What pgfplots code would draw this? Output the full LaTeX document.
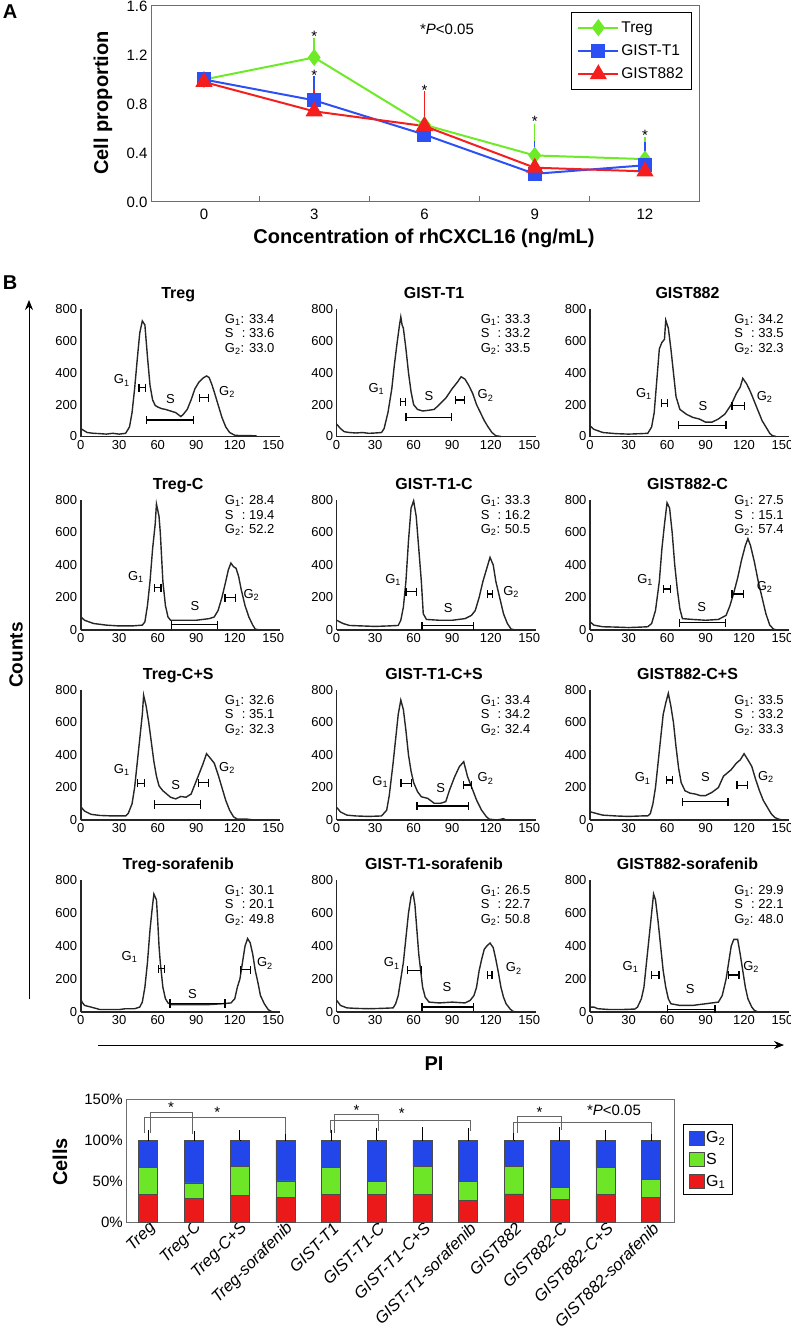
\documentclass[border=0pt]{standalone}
\usepackage{fontspec}
\setmainfont{Liberation Sans}
\usepackage{pgfplots}
\pgfplotsset{compat=1.18}
\usetikzlibrary{arrows.meta}

\definecolor{tgreen}{RGB}{110,235,40}
\definecolor{tblue}{RGB}{45,80,245}
\definecolor{tred}{RGB}{245,30,30}
\definecolor{bblue}{RGB}{35,70,235}
\definecolor{bgreen}{RGB}{110,230,40}
\definecolor{bred}{RGB}{235,25,25}
\definecolor{framegray}{RGB}{110,110,110}

\newcommand\fs[1]{\fontsize{#1}{#1}\selectfont}
% phase labels and interval markers inside a histogram
\newcommand\gl[3]{\node[font=\fs{13}] at (axis cs:#1,#2) {#3};}
\newcommand\mk[3]{\addplot[black, line width=1.3pt, {|-|}] coordinates {(#1,#3) (#2,#3)};}
\newcommand\stats[4]{\node[anchor=north east, inner sep=0pt, font=\fontsize{13}{14.5}\selectfont]
  at (axis cs:151,#1) {\begin{tabular}{@{}l@{: }l@{}}G\textsubscript{1}&#2\\S\,&#3\\G\textsubscript{2}&#4\end{tabular}};}

\pgfplotsset{
  /pgf/number format/assume math mode=true,
  hist/.style={anchor=south west, scale only axis, width=199pt,
    xmin=0, xmax=155, ymin=0, ymax=800,
    axis lines*=left, axis line style={-, line width=1.6pt, black!85},
    xtick={0,30,...,150}, ytick={0,200,...,800}, major tick length=0pt,
    tick label style={font=\fs{13}}, clip=false,
    title style={font=\bfseries\fs{16}, at={(axis description cs:0.49,1)},
      anchor=base, yshift=5pt, inner sep=0pt}},
  hline/.style={black!85, line width=1.4pt}
}

\begin{document}
\begin{tikzpicture}
\path[use as bounding box] (0pt,0pt) rectangle (791pt,-1329pt);

% ---------------- panel A ----------------
\node[font=\bfseries\fs{20}] at (10pt,-12pt) {A};
\begin{axis}[at={(151pt,-202pt)}, anchor=south west, scale only axis,
  width=548pt, height=196pt, xmin=-1.44, xmax=13.47, ymin=0, ymax=1.6,
  axis line style={framegray, line width=1pt},
  xtick={1.5,4.5,7.5,10.5}, xticklabels={}, xtick pos=bottom,
  major tick length=6pt, tick style={framegray, line width=1pt},
  extra x ticks={0,3,6,9,12}, extra x tick style={tick style={draw=none}},
  ytick={0,0.4,0.8,1.2,1.6}, ytick pos=left, ytick style={draw=none},
  yticklabel style={/pgf/number format/.cd, fixed, fixed zerofill, precision=1},
  tick label style={font=\fs{15}}, xticklabel style={yshift=-3pt},
  clip=false,
  legend style={at={(0.987,0.969)}, anchor=north east, draw=black, line width=1pt,
    font=\fs{15.5}, row sep=7pt, inner xsep=6pt, inner ysep=7pt},
  legend cell align=left,
  legend image code/.code={\draw[mark repeat=2,mark phase=2] plot coordinates {(0pt,0pt)(20pt,0pt)(40pt,0pt)};},
  ]
\addplot[tgreen, line width=2pt, mark=diamond*, mark size=7pt, mark options={solid},
  error bars/.cd, y dir=plus, y explicit, error bar style={line width=1.5pt},
  error mark options={line width=1.5pt, mark size=4.5pt}]
  coordinates {(0,1.00) +- (0,0) (3,1.18) +- (0,0.12) (6,0.63) +- (0,0.18) (9,0.38) +- (0,0.22) (12,0.35) +- (0,0.14)};
\addlegendentry{Treg}
\addplot[tblue, line width=2pt, mark=square*, mark size=6pt, mark options={solid},
  error bars/.cd, y dir=plus, y explicit, error bar style={line width=1.5pt},
  error mark options={line width=1.5pt, mark size=4.5pt}]
  coordinates {(0,1.00) +- (0,0) (3,0.83) +- (0,0.16) (6,0.55) +- (0,0.22) (9,0.23) +- (0,0.23) (12,0.30) +- (0,0.15)};
\addlegendentry{GIST-T1}
\addplot[tred, line width=2pt, mark=triangle*, mark size=8pt, mark options={solid},
  error bars/.cd, y dir=plus, y explicit, error bar style={line width=1.5pt},
  error mark options={line width=1.5pt, mark size=4.5pt}]
  coordinates {(0,0.98) +- (0,0) (3,0.74) +- (0,0.14) (6,0.62) +- (0,0.25) (9,0.28) +- (0,0.11) (12,0.25) +- (0,0.13)};
\addlegendentry{GIST882}
\node[font=\fs{15}, yshift=-3pt] at (axis cs:3,1.38) {*};
\node[font=\fs{15}, yshift=-3pt] at (axis cs:3,1.06) {*};
\node[font=\fs{15}, yshift=-3pt] at (axis cs:3,0.79) {*};
\node[font=\fs{15}, yshift=-3pt] at (axis cs:6,0.94) {*};
\node[font=\fs{15}, yshift=-3pt] at (axis cs:9,0.68) {*};
\node[font=\fs{15}, yshift=-3pt] at (axis cs:12,0.57) {*};
\end{axis}
\node[font=\fs{15}] at (447pt,-29pt) {*\textit{P}<0.05};
\node[rotate=90, font=\bfseries\fs{20}] at (103pt,-103pt) {Cell proportion};
\node[font=\bfseries\fs{20}] at (424pt,-238pt) {Concentration of rhCXCL16 (ng/mL)};

% ---------------- panel B histograms ----------------
\node[font=\bfseries\fs{20}] at (10pt,-283pt) {B};
\draw[line width=1pt, -{Stealth[length=10pt,width=8pt]}] (29pt,-999pt) -- (29pt,-300pt);
\node[rotate=90, font=\bfseries\fs{19}] at (16pt,-655pt) {Counts};
\draw[line width=1pt, -{Stealth[length=10pt,width=8pt]}] (98pt,-1045pt) -- (784pt,-1045pt);
\node[font=\bfseries\fs{20}] at (434pt,-1064pt) {PI};

% row 1
\begin{axis}[hist, at={(80.7pt,-436.5pt)}, height=127.5pt, title={Treg}]
\addplot[hline] coordinates {(0,50)(2,40)(5,25)(10,20)(15,18)(20,15)(25,20)(30,15)(35,20)(38,60)(40,150)(42,300)(44,480)(46,650)(48,725)(50,700)(52,500)(54,320)(56,230)(58,195)(60,185)(63,175)(66,170)(70,160)(74,150)(78,125)(80,140)(83,170)(86,230)(89,300)(92,340)(95,365)(98,380)(100,370)(102,330)(104,280)(107,200)(110,120)(113,60)(116,25)(120,8)(125,5)(130,6)(137,4)};
\stats{775}{33.4}{33.6}{33.0}
\gl{32}{352}{G\textsubscript{1}} \mk{45}{51}{306}
\gl{70}{236}{S} \mk{51}{88.5}{103}
\gl{114}{278}{G\textsubscript{2}} \mk{92}{100}{243}
\end{axis}
\begin{axis}[hist, at={(336.6pt,-436.5pt)}, height=127.5pt, title={GIST-T1}]
\addplot[hline] coordinates {(0,78)(3,50)(6,30)(10,25)(15,22)(20,25)(25,20)(30,22)(35,25)(37,50)(40,150)(43,300)(45,450)(47,580)(49,700)(50,750)(51,700)(52,680)(54,550)(56,400)(58,280)(60,200)(63,170)(67,160)(72,165)(76,170)(80,200)(85,240)(90,300)(94,340)(97,375)(100,360)(103,320)(106,270)(109,200)(112,150)(115,100)(118,60)(121,25)(124,5)(128,0)};
\stats{775}{33.3}{33.2}{33.5}
\gl{31}{299}{G\textsubscript{1}} \mk{49}{54}{219}
\gl{72}{257}{S} \mk{53.5}{90}{120}
\gl{116}{257}{G\textsubscript{2}} \mk{92}{100}{229}
\end{axis}
\begin{axis}[hist, at={(590pt,-436.5pt)}, height=127.5pt, title={GIST882}]
\addplot[hline] coordinates {(0,67)(3,45)(10,25)(20,18)(30,15)(40,18)(45,20)(48,60)(50,150)(52,350)(54,550)(56,590)(58,610)(59,730)(61,680)(63,550)(65,400)(67,250)(70,170)(75,140)(80,120)(85,110)(90,90)(95,90)(100,110)(105,140)(110,200)(114,270)(117,310)(119,365)(122,330)(125,280)(128,220)(131,160)(134,100)(137,60)(140,20)(142,5)(145,0)};
\stats{775}{34.2}{33.5}{32.3}
\gl{42}{266}{G\textsubscript{1}} \mk{55}{61}{209}
\gl{88}{193}{S} \mk{68.5}{106.5}{71}
\gl{136}{249}{G\textsubscript{2}} \mk{110}{121}{193}
\end{axis}

% row 2
\begin{axis}[hist, at={(80.7pt,-630pt)}, height=130pt, title={Treg-C}]
\addplot[hline] coordinates {(0,82)(3,60)(10,40)(20,30)(30,25)(40,25)(48,30)(50,50)(52,150)(54,300)(56,500)(58,650)(59,775)(61,700)(62,600)(63,450)(64,300)(66,150)(68,80)(70,60)(80,60)(90,60)(100,70)(104,80)(107,120)(110,200)(113,300)(115,370)(117,412)(119,390)(121,380)(123,330)(125,250)(128,150)(131,80)(134,30)(136,5)(140,0)};
\stats{835}{28.4}{19.4}{52.2}
\gl{43}{328}{G\textsubscript{1}} \mk{57}{63}{260}
\gl{89}{148}{S} \mk{70}{107}{33}
\gl{133}{215}{G\textsubscript{2}} \mk{112}{121}{199}
\end{axis}
\begin{axis}[hist, at={(336.6pt,-630pt)}, height=130pt, title={GIST-T1-C}]
\addplot[hline] coordinates {(0,60)(5,40)(10,28)(20,25)(30,22)(40,25)(48,28)(50,60)(52,140)(54,300)(56,550)(58,750)(60,795)(62,700)(63,600)(64,500)(66,300)(67.5,100)(70,65)(80,60)(90,60)(100,70)(105,90)(108,120)(111,200)(114,300)(117,380)(119.5,447)(122,400)(124,300)(127,200)(130,100)(133,40)(136,5)(140,0)};
\stats{835}{33.3}{16.2}{50.5}
\gl{44}{307}{G\textsubscript{1}} \mk{53.5}{62.7}{236}
\gl{87}{133}{S} \mk{66}{107}{27}
\gl{136}{236}{G\textsubscript{2}} \mk{117}{122}{221}
\end{axis}
\begin{axis}[hist, at={(590pt,-630pt)}, height=130pt, title={GIST882-C}]
\addplot[hline] coordinates {(0,51)(3,30)(10,20)(20,18)(30,15)(40,18)(45,20)(48,40)(51,120)(54,300)(56,500)(58,650)(60,783)(62,750)(64,600)(66,400)(68,250)(70,130)(72,70)(80,65)(90,60)(100,65)(106,90)(109,150)(112,230)(115,320)(118,430)(121,520)(123,562)(125,520)(128,420)(131,300)(134,200)(137,100)(140,30)(143,5)(146,0)};
\stats{835}{27.5}{15.1}{57.4}
\gl{43}{307}{G\textsubscript{1}} \mk{57}{63}{252}
\gl{87}{143}{S} \mk{69}{106}{45}
\gl{136}{266}{G\textsubscript{2}} \mk{110}{120}{221}
\end{axis}

% row 3
\begin{axis}[hist, at={(80.7pt,-820pt)}, height=130pt, title={Treg-C+S}]
\addplot[hline] coordinates {(0,82)(3,55)(8,35)(15,28)(25,25)(35,25)(37,40)(40,100)(42,200)(44,350)(46,500)(48,650)(49,768)(51,700)(53,600)(55,480)(57,360)(59,270)(61,210)(64,180)(67,160)(70,140)(74,130)(78,145)(82,140)(86,160)(89,220)(92,280)(95,340)(98,408)(101,380)(104,350)(107,280)(110,200)(113,120)(116,60)(119,20)(122,5)(130,5)(135,0)};
\stats{775}{32.6}{35.1}{32.3}
\gl{32}{308}{G\textsubscript{1}} \mk{44}{50}{226}
\gl{74}{215}{S} \mk{57}{94}{96}
\gl{114}{318}{G\textsubscript{2}} \mk{91}{100}{230}
\end{axis}
\begin{axis}[hist, at={(336.6pt,-820pt)}, height=130pt, title={GIST-T1-C+S}]
\addplot[hline] coordinates {(0,78)(3,50)(8,30)(15,25)(25,22)(35,25)(39,60)(41,150)(44,350)(46,500)(48,650)(50,738)(52,680)(54,550)(56,400)(58,300)(60,230)(63,175)(66,143)(71,133)(76,103)(81,103)(85,113)(88,185)(92,267)(95.6,328)(99,359)(102,267)(106,185)(109,123)(112.8,62)(116.7,20)(119,5)(125,0)(130,8)(132,0)};
\stats{775}{33.4}{34.2}{32.4}
\gl{34}{236}{G\textsubscript{1}} \mk{49.6}{58.8}{226}
\gl{81}{195}{S} \mk{62}{103}{86}
\gl{116}{256}{G\textsubscript{2}} \mk{98.6}{105.7}{215}
\end{axis}
\begin{axis}[hist, at={(590pt,-820pt)}, height=130pt, title={GIST882-C+S}]
\addplot[hline] coordinates {(0,51)(5,40)(10,30)(20,25)(30,22)(40,25)(45,25)(47,40)(49,100)(51,200)(53,350)(55,500)(57,650)(59,720)(61,780)(63,700)(65,600)(67,450)(69,320)(71,230)(74,180)(78,165)(82,160)(86,150)(90,150)(95,170)(100,200)(104,270)(107,290)(110,310)(114,350)(117,370)(120,408)(123,370)(126,330)(129,250)(132,180)(135,120)(138,80)(141,40)(144,15)(147,5)(150,0)};
\stats{775}{33.5}{33.2}{33.3}
\gl{41}{256}{G\textsubscript{1}} \mk{59}{65}{246}
\gl{90}{267}{S} \mk{71.5}{108}{113}
\gl{137}{267}{G\textsubscript{2}} \mk{114}{123}{213}
\end{axis}

% row 4
\begin{axis}[hist, at={(80.7pt,-1012pt)}, height=132pt, title={Treg-sorafenib}]
\addplot[hline] coordinates {(0,81)(1,60)(3,40)(8,30)(15,15)(20,15)(30,15)(35,20)(42,20)(46,30)(48,60)(50,150)(52,300)(54,500)(56,650)(57,715)(59,680)(60,550)(61,400)(62,300)(64,150)(66,80)(68,55)(70,45)(80,45)(90,45)(100,45)(110,50)(117,55)(120,80)(122,150)(124,200)(126,300)(128,400)(130,445)(132,420)(134,350)(136,250)(138,180)(140,100)(143,50)(146,15)(148,5)(150,0)};
\stats{775}{30.1}{20.1}{49.8}
\gl{38}{334}{G\textsubscript{1}} \mk{60}{66}{263}
\gl{87}{111}{S} \mk{69}{113}{51}
\gl{143.5}{294}{G\textsubscript{2}} \mk{124}{133}{257}
\end{axis}
\begin{axis}[hist, at={(336.6pt,-1012pt)}, height=132pt, title={GIST-T1-sorafenib}]
\addplot[hline] coordinates {(0,71)(3,40)(8,25)(15,22)(25,20)(35,22)(44,25)(46,50)(48,100)(50,200)(52,300)(54,450)(56,600)(58,700)(59.5,723)(61,650)(62,550)(63,450)(64,350)(65.5,250)(67,150)(69,90)(72,60)(80,55)(90,60)(100,55)(104,70)(107,100)(109,150)(111,250)(113,320)(115,380)(117,400)(119.5,418)(122,390)(124,320)(126,240)(128,150)(130,90)(132,50)(135,20)(137,5)(140,0)};
\stats{775}{26.5}{22.7}{50.8}
\gl{43}{294}{G\textsubscript{1}} \mk{54.8}{66.6}{253}
\gl{86}{152}{S} \mk{66}{107}{30}
\gl{138}{264}{G\textsubscript{2}} \mk{117}{121.6}{223}
\end{axis}
\begin{axis}[hist, at={(590pt,-1012pt)}, height=132pt, title={GIST882-sorafenib}]
\addplot[hline] coordinates {(0,30)(3,30)(6,20)(15,15)(25,15)(35,18)(37,30)(40,80)(42,150)(44,300)(46,450)(48,600)(49.5,715)(51,680)(53,550)(55,400)(57,250)(59,150)(61,80)(63,50)(70,40)(80,40)(90,50)(95,55)(100,60)(103,100)(106,200)(108,300)(110,400)(112,440)(115,440)(117,350)(119,250)(121,150)(123,80)(126,30)(128,10)(131,0)};
\stats{775}{29.9}{22.1}{48.0}
\gl{31.6}{273}{G\textsubscript{1}} \mk{47.6}{54.3}{223}
\gl{78}{142}{S} \mk{60}{97.8}{16}
\gl{125.5}{273}{G\textsubscript{2}} \mk{107.5}{116.5}{225}
\end{axis}

% ---------------- stacked bar chart ----------------
\begin{axis}[at={(126.3pt,-1222pt)}, anchor=south west, scale only axis,
  width=548pt, height=123pt, xmin=-0.48, xmax=11.51, ymin=0, ymax=150,
  ybar stacked, bar width=19pt,
  axis line style={framegray, line width=1pt}, major tick length=0pt,
  xtick={0,...,11},
  xticklabels={Treg,Treg-C,Treg-C+S,Treg-sorafenib,GIST-T1,GIST-T1-C,GIST-T1-C+S,GIST-T1-sorafenib,GIST882,GIST882-C,GIST882-C+S,GIST882-sorafenib},
  xticklabel style={rotate=45, anchor=east, font=\itshape\fs{16.5}, inner sep=1pt, yshift=-6pt, xshift=2pt},
  ytick={0,50,100,150}, yticklabels={0\%,50\%,100\%,150\%},
  yticklabel style={font=\fs{15}},
  reverse legend,
  legend style={at={(1.016,0.797)}, anchor=north west, draw=black, line width=1pt,
    font=\fs{16}, row sep=5pt, inner xsep=5pt, inner ysep=5pt},
  legend cell align=left,
  legend image code/.code={\draw[#1] (0pt,-7pt) rectangle (15pt,7pt);},
  ]
\addplot[fill=bred, draw=black!70, line width=0.5pt] coordinates {(0,33.4)(1,28.4)(2,32.6)(3,30.1)(4,33.3)(5,33.3)(6,33.4)(7,26.5)(8,34.2)(9,27.5)(10,33.5)(11,29.9)};
\addlegendentry{G\textsubscript{1}}
\addplot[fill=bgreen, draw=black!70, line width=0.5pt] coordinates {(0,33.6)(1,19.4)(2,35.1)(3,20.1)(4,33.2)(5,16.2)(6,34.2)(7,22.7)(8,33.5)(9,15.1)(10,33.2)(11,22.1)};
\addlegendentry{S}
\addplot[fill=bblue, draw=black!70, line width=0.5pt] coordinates {(0,33.0)(1,52.2)(2,32.3)(3,49.8)(4,33.5)(5,50.5)(6,32.4)(7,50.8)(8,32.3)(9,57.4)(10,33.3)(11,48.0)};
\addlegendentry{G\textsubscript{2}}
\end{axis}
\node[rotate=90, font=\bfseries\fs{20}] at (60pt,-1162pt) {Cells};

% error bars and significance brackets over the bars
\begin{axis}[at={(126.3pt,-1222pt)}, anchor=south west, scale only axis,
  width=548pt, height=123pt, xmin=-0.48, xmax=11.51, ymin=0, ymax=150,
  axis lines=none, clip=false]
\addplot[black, only marks, mark=-, mark size=0.1pt,
  error bars/.cd, y dir=plus, y explicit, error bar style={black, line width=0.8pt},
  error mark options={black, line width=0.8pt, mark size=3pt}]
  coordinates {(0,100) +- (0,8) (1,100) +- (0,7) (2,100) +- (0,8) (3,100) +- (0,7)
    (4,100) +- (0,9) (5,100) +- (0,11) (6,100) +- (0,12) (7,100) +- (0,11)
    (8,100) +- (0,8) (9,100) +- (0,12) (10,100) +- (0,8) (11,100) +- (0,7)};
\addplot[gray!80!black, line width=0.9pt] coordinates {(0.05,108)(0.05,134)(0.97,134)(0.97,107.5)};
\addplot[gray!80!black, line width=0.9pt] coordinates {(-0.08,108)(-0.08,127)(3.0,127)(3.0,107.5)};
\addplot[gray!80!black, line width=0.9pt] coordinates {(4.08,109)(4.08,131.5)(5.03,131.5)(5.03,111)};
\addplot[gray!80!black, line width=0.9pt] coordinates {(3.98,109)(3.98,124)(7.04,124)(7.04,111)};
\addplot[gray!80!black, line width=0.9pt] coordinates {(8.07,108)(8.07,128.7)(9.03,128.7)(9.03,112)};
\addplot[gray!80!black, line width=0.9pt] coordinates {(7.98,108)(7.98,122)(11.02,122)(11.02,107)};
\node[font=\fs{15}, yshift=-3pt] at (axis cs:0.5,143) {*};
\node[font=\fs{15}, yshift=-3pt] at (axis cs:1.51,137) {*};
\node[font=\fs{15}, yshift=-3pt] at (axis cs:4.56,140) {*};
\node[font=\fs{15}, yshift=-3pt] at (axis cs:5.55,135.7) {*};
\node[font=\fs{15}, yshift=-3pt] at (axis cs:8.56,137) {*};
\node[font=\fs{15}] at (axis cs:10.19,135.7) {*\textit{P}<0.05};
\end{axis}
\end{tikzpicture}
\end{document}
